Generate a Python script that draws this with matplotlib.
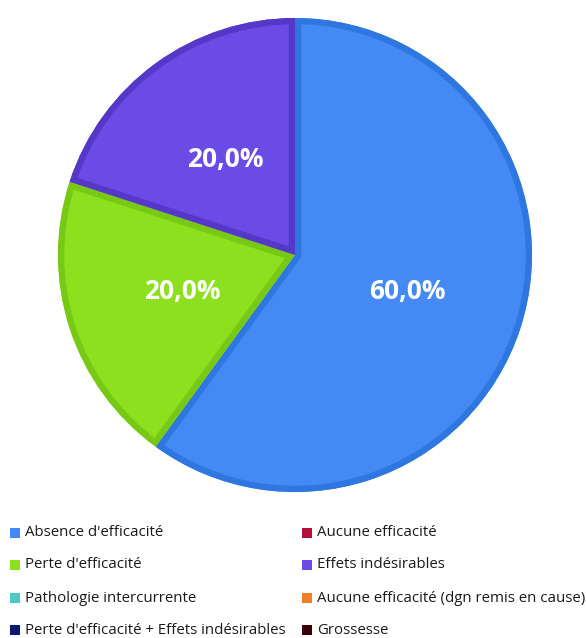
import matplotlib
matplotlib.use("Agg")
import matplotlib.pyplot as plt
from matplotlib.patches import Rectangle, Wedge

labels = ["Absence d'efficacité", "Aucune efficacité", "Perte d'efficacité",
          "Effets indésirables", "Pathologie intercurrente",
          "Aucune efficacité (dgn remis en cause)",
          "Perte d'efficacité + Effets indésirables", "Grossesse"]
values = [60, 0, 20, 20, 0, 0, 0, 0]
fills = ["#4589F5", "#B0103A", "#8CE01E", "#6A4BE5", "#4DC8C8", "#F07F2A", "#0B1A6E", "#3A0008"]
edges = ["#2F77E0", "#8E0C2E", "#78C816", "#5538C8", "#3AAFAF", "#D06A1E", "#07125A", "#2A0005"]

fig = plt.figure(figsize=(5.86, 6.38), dpi=100)
ax = fig.add_axes([58 / 586, 1 - 492 / 638, 474 / 586, 474 / 638])


def pct(p):
    if p < 0.05:
        return ""
    return f"{p:.1f}".replace(".", ",") + "%"


wedges, texts, autotexts = ax.pie(values, colors=fills, startangle=90, counterclock=False,
                                  autopct=pct, pctdistance=0.5, radius=1,
                                  wedgeprops=dict(linewidth=0))
for w, ec in zip(wedges, edges):
    # inner border: stroke clipped to the wedge itself
    border = Wedge(w.center, w.r, w.theta1, w.theta2,
                   facecolor="none", edgecolor=ec, linewidth=9)
    ax.add_patch(border)
    border.set_clip_path(w)
for t in autotexts:
    t.set_color("white")
    t.set_fontsize(19)
    t.set_fontweight("bold")
    t.set_fontfamily("Open Sans")
ax.set_xlim(-1, 1)
ax.set_ylim(-1, 1)
ax.set_aspect("equal")
ax.axis("off")

# legend, two columns, row-major
rows_y = [533, 565, 598, 630]
cols_x = [10, 302]
for i, (lab, c) in enumerate(zip(labels, fills)):
    row, col = divmod(i, 2)
    x = cols_x[col]
    y = rows_y[row]
    fig.patches.append(Rectangle((x / 586, 1 - (y + 5) / 638), 10 / 586, 10 / 638,
                                 transform=fig.transFigure, facecolor=c, edgecolor="none"))
    fig.text((x + 15) / 586, 1 - y / 638, lab, fontsize=10.8, fontfamily="Open Sans",
             va="center", ha="left", color="#1a1a1a")

fig.savefig("out.png", dpi=100)
